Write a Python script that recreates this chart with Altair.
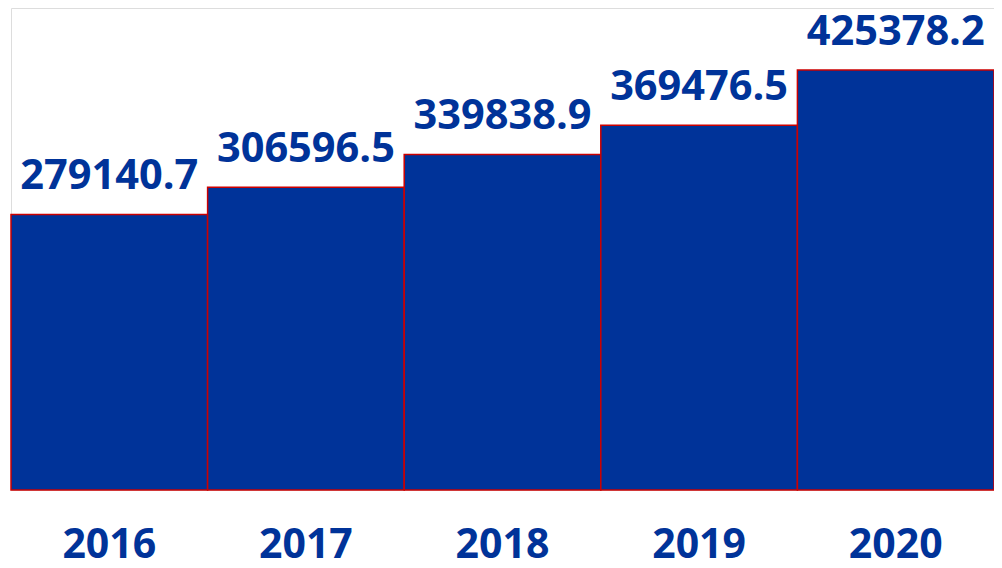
import altair as alt
import pandas as pd

years = ["2016", "2017", "2018", "2019", "2020"]
values = [279140.7, 306596.5, 339838.9, 369476.5, 425378.2]
labels = ["279140.7", "306596.5", "339838.9", "369476.5", "425378.2"]

df = pd.DataFrame({"year": years, "value": values, "label": labels})

BLUE = "#003399"
FONT = "Open Sans"

x = alt.X("year:N", sort=years,
          scale=alt.Scale(paddingInner=0, paddingOuter=0),
          axis=alt.Axis(title=None, domain=False, ticks=False, grid=False,
                        labelAngle=0, labelFont=FONT, labelFontSize=41,
                        labelFontWeight="bold", labelColor=BLUE,
                        labelBaseline="alphabetic", labelPadding=67))
y = alt.Y("value:Q", scale=alt.Scale(domain=[0, 488171], nice=False),
          axis=None)

bars = alt.Chart(df).mark_bar(color=BLUE, stroke="#cc0000", strokeWidth=1.5).encode(x=x, y=y)
text = alt.Chart(df).mark_text(font=FONT, fontSize=41.5, fontWeight="bold",
                               color=BLUE, baseline="alphabetic", dy=-25).encode(
    x=alt.X("year:N", sort=years), y="value:Q", text="label:N")

chart = alt.layer(bars, text).properties(
    width=983, height=482,
    autosize=alt.AutoSizeParams(type="none"),
    padding={"left": 3, "top": 0, "right": 0, "bottom": 70},
).configure_view(stroke="transparent", strokeWidth=0).configure(background="white")

chart.save("out.html", embed_options={"renderer": "svg", "actions": False})
